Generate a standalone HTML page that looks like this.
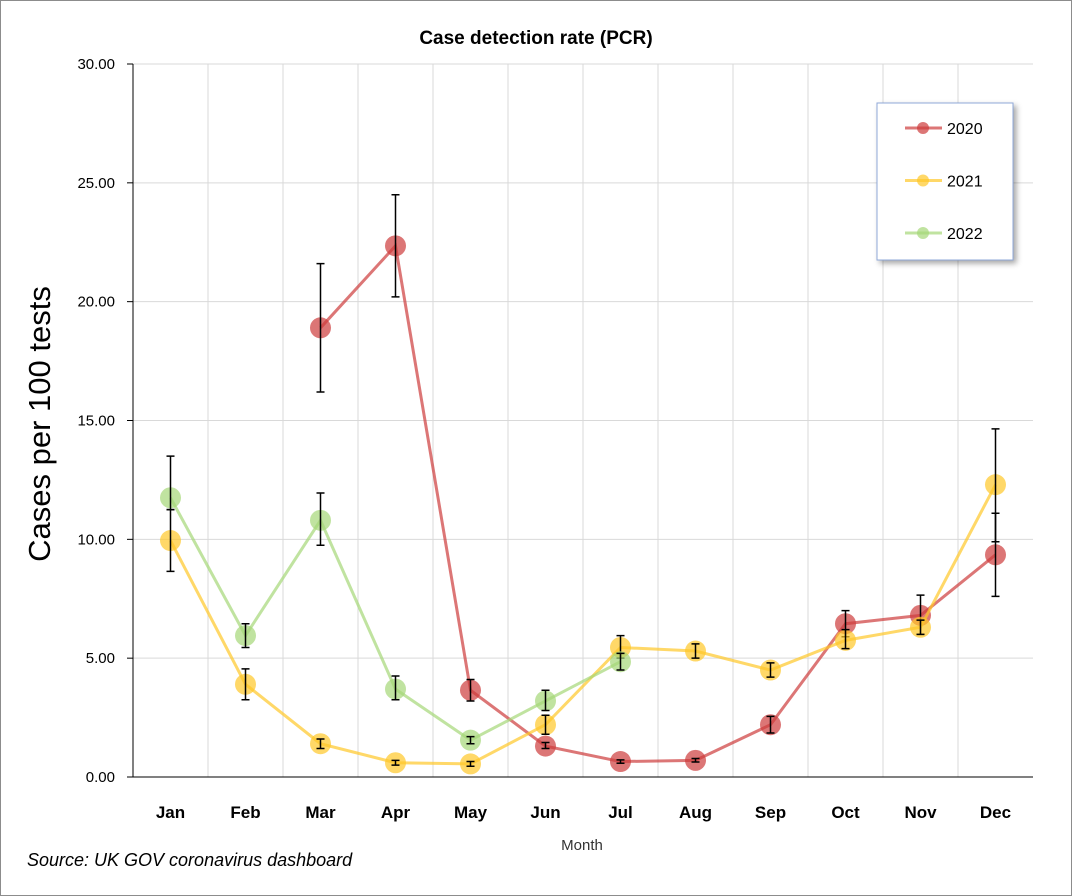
<!DOCTYPE html>
<html><head><meta charset="utf-8"><style>
body{margin:0;background:#fff;}
svg{display:block;font-family:"Liberation Sans",Calibri,sans-serif;}
</style></head><body>
<svg width="1072" height="896" id="c">
<defs><filter id="sh" x="-20%" y="-20%" width="150%" height="150%"><feDropShadow dx="3" dy="3" stdDeviation="3" flood-color="#000" flood-opacity="0.35"/></filter></defs>
<rect x="0.5" y="0.5" width="1071" height="895" fill="#fff" stroke="#8c8c8c"/>
<text x="536" y="44" text-anchor="middle" font-size="19" font-weight="bold">Case detection rate (PCR)</text>
<g id="grid"></g>
<g id="axes"></g>
<g id="series"></g>
<text transform="translate(50,424) rotate(-90)" text-anchor="middle" font-size="31">Cases per 100 tests</text>
<text x="582" y="850" text-anchor="middle" font-size="15" fill="#333">Month</text>
<text x="27" y="866" font-size="18" font-style="italic">Source: UK GOV coronavirus dashboard</text>
<g>
<rect x="877" y="103" width="136" height="157" fill="#fff" stroke="#8fa8d8" filter="url(#sh)"/>
<g id="leg"></g>
</g>
</svg>
<script>
const months=["Jan","Feb","Mar","Apr","May","Jun","Jul","Aug","Sep","Oct","Nov","Dec"];
const yTicks=[0,5,10,15,20,25,30];
const seriesNames=["2020","2021","2022"];
const v2020=[null,null,18.9,22.35,3.65,1.3,0.65,0.7,2.2,6.45,6.8,9.35];
const lo2020=[null,null,16.2,20.2,3.2,1.2,0.58,0.63,1.85,5.9,6.0,7.6];
const hi2020=[null,null,21.6,24.5,4.1,1.45,0.72,0.78,2.55,7.0,7.65,11.1];
const v2021=[9.95,3.9,1.4,0.6,0.55,2.2,5.45,5.3,4.5,5.75,6.3,12.3];
const lo2021=[8.65,3.25,1.2,0.5,0.45,1.8,5.0,5.0,4.2,5.4,6.0,9.9];
const hi2021=[11.25,4.55,1.6,0.7,0.65,2.6,5.95,5.6,4.8,6.2,6.6,14.65];
const v2022=[11.75,5.95,10.8,3.7,1.55,3.2,4.85,null,null,null,null,null];
const lo2022=[11.25,5.45,9.75,3.25,1.4,2.8,4.5,null,null,null,null,null];
const hi2022=[13.5,6.45,11.95,4.25,1.7,3.65,5.2,null,null,null,null,null];
const colors=["rgba(205,60,60,0.7)","rgba(255,200,40,0.7)","rgba(165,215,120,0.7)"];
const L=133,R=1033,T=64,B=777;
const x=i=>L+37.5+75*i;
const y=v=>B-(v/30)*(B-T);
const NS="http://www.w3.org/2000/svg";
function mk(tag,attrs,parent){const e=document.createElementNS(NS,tag);for(const k in attrs)e.setAttribute(k,attrs[k]);parent.appendChild(e);return e;}
const grid=document.getElementById('grid'),axes=document.getElementById('axes'),ser=document.getElementById('series'),leg=document.getElementById('leg');
yTicks.forEach(t=>{
 if(t>0){const g=mk('line',{x1:L,x2:R,y1:y(t),y2:y(t),stroke:'#d9d9d9'},grid);
 
 }
 const tk=mk('line',{x1:L-6,x2:L,y1:y(t),y2:y(t),stroke:'#000'},axes);
 
 
 const tx=mk('text',{x:L-18,y:y(t)+5,'text-anchor':'end','font-size':15},axes);
 tx.textContent=t.toFixed(2);
 
 
});
months.forEach((m,i)=>{
 const gx=L+75*(i+1);
 if(i<11){const g=mk('line',{x1:gx,x2:gx,y1:T,y2:B,stroke:'#d9d9d9'},grid);
 
 }
 const tx=mk('text',{x:x(i),y:818,'text-anchor':'middle','font-size':17,'font-weight':'bold'},axes);
 tx.textContent=m;
 
 
});
const ya=mk('line',{x1:L,x2:L,y1:T,y2:B,stroke:'#000'},axes);


const xa=mk('line',{x1:L,x2:R,y1:B,y2:B,stroke:'#000'},axes);


const all=[[v2020,lo2020,hi2020],[v2021,lo2021,hi2021],[v2022,lo2022,hi2022]];
all.forEach(([v,lo,hi],s)=>{
 const g=mk('g',{},ser);
 
 
 let d='',pen=false;
 v.forEach((val,i)=>{if(val==null){pen=false;return;}d+=(pen?'L':'M')+x(i)+','+y(val);pen=true;});
 const p=mk('path',{d:d,fill:'none',stroke:colors[s],'stroke-width':3},g);
 
 
 v.forEach((val,i)=>{if(val==null)return;
  const c=mk('circle',{cx:x(i),cy:y(val),r:10.5,fill:colors[s]},g);
  
  
 });
 v.forEach((val,i)=>{if(val==null)return;
  const e=mk('path',{d:`M${x(i)},${y(lo[i])}V${y(hi[i])}M${x(i)-4},${y(lo[i])}h8M${x(i)-4},${y(hi[i])}h8`,stroke:'#000','stroke-width':1.5,fill:'none'},g);
  
  
 });
 const ly=128+52.5*s;
 const lg=mk('g',{},leg);
 
 
 mk('line',{x1:905,x2:942,y1:ly,y2:ly,stroke:colors[s],'stroke-width':3},lg);
 mk('circle',{cx:923,cy:ly,r:6,fill:colors[s]},lg);
 const t=mk('text',{x:947,y:ly+6,'font-size':16},lg);
 t.textContent=seriesNames[s];
});
</script>
</body></html>
